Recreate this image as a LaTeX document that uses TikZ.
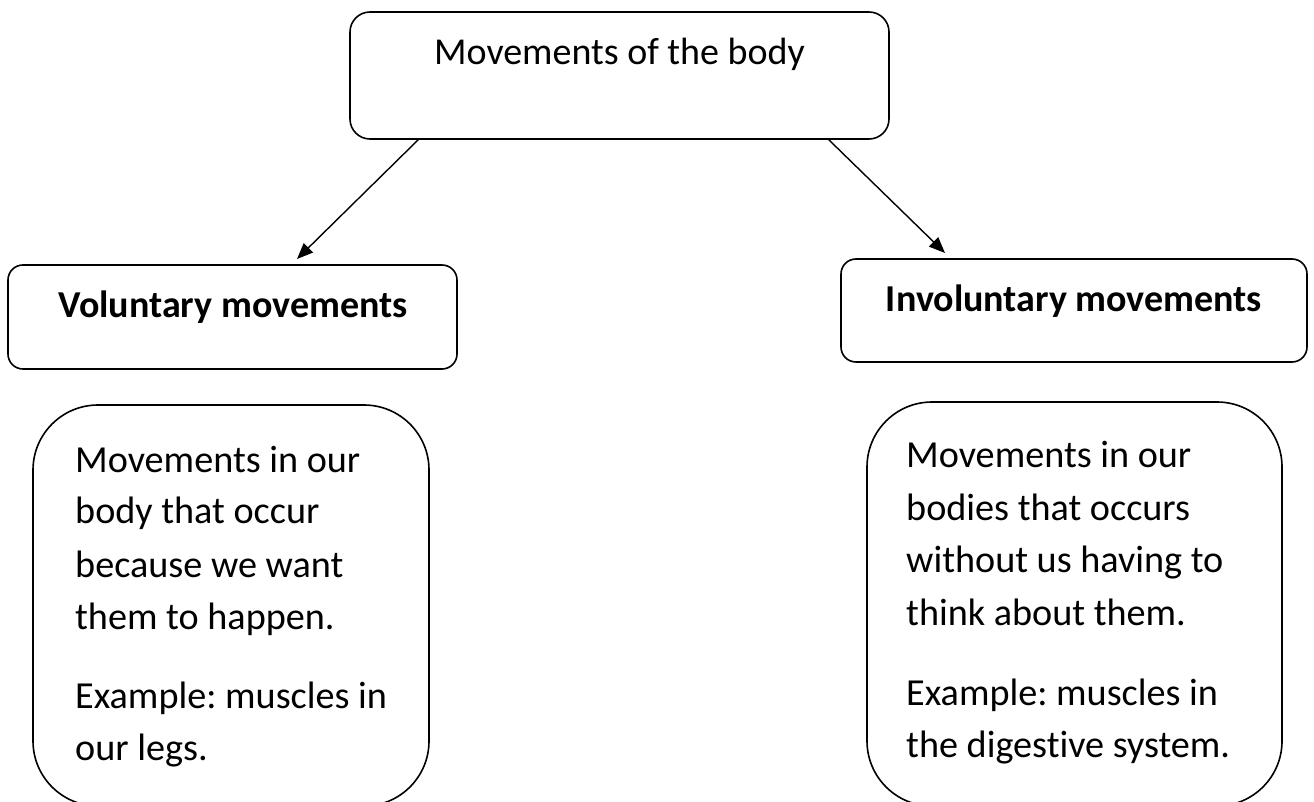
\documentclass[tikz,border=0pt]{standalone}
\usepackage{fontspec}
\setmainfont{Carlito}[Ligatures=NoCommon]
\usetikzlibrary{arrows.meta,calc}
\frenchspacing
\begin{document}
\begin{tikzpicture}[x=1pt,y=-1pt,
  box/.style={draw, line width=1.6pt, rectangle, inner sep=0pt, outer sep=0pt, anchor=north west},
  lbl/.style={inner sep=0pt, anchor=base, font=\fontsize{38}{45}\selectfont},
  hdr/.style={inner sep=0pt, anchor=base, font=\bfseries\fontsize{38}{45}\selectfont},
  bodyline/.style={inner sep=0pt, anchor=base west, font=\fontsize{38.2}{45}\selectfont},
  conn/.style={line width=1.4pt, -{Triangle[length=16pt,width=13pt]}}]
\useasboundingbox (0,0) rectangle (1314,802);
\clip (0,0) rectangle (1314,802);
% boxes
\node[box, rounded corners=20pt, minimum width=539pt, minimum height=127pt] (top) at (350,12) {};
\node[box, rounded corners=15pt, minimum width=449pt, minimum height=104pt] (vol) at (8,265) {};
\node[box, rounded corners=15pt, minimum width=466pt, minimum height=103pt] (inv) at (841,259) {};
\node[box, rounded corners=65pt, minimum width=396pt, minimum height=401pt] (voldesc) at (33,405) {};
\node[box, rounded corners=65pt, minimum width=415pt, minimum height=404pt] (invdesc) at (867,402) {};
% titles
\node[lbl] (toptext) at (619.5,65) {Movements of the body};
\node[hdr] (voltext) at (233,317) {Voluntary movements};
\node[hdr] (invtext) at (1074,312) {Involuntary movements};
% left description
\node[bodyline] (l1) at (75,472) {Movements in our};
\node[bodyline] (l2) at (75,523) {body that occur};
\node[bodyline] (l3) at (75,577) {because we want};
\node[bodyline] (l4) at (75,629) {them to happen.};
\node[bodyline] (l5) at (75,708) {Example: muscles in};
\node[bodyline] (l6) at (75,760) {our legs.};
% right description
\node[bodyline] (r1) at (906,467) {Movements in our};
\node[bodyline] (r2) at (906,520) {bodies that occurs};
\node[bodyline] (r3) at (906,572) {without us having to};
\node[bodyline] (r4) at (906,625) {think about them.};
\node[bodyline] (r5) at (906,705) {Example: muscles in};
\node[bodyline] (r6) at (906,757) {the digestive system.};
% connectors
\coordinate (lstart) at ($(top.south west)+(69,0)$);
\coordinate (rstart) at ($(top.south east)+(-61,0)$);
\coordinate (lend) at (297,259);
\coordinate (rend) at (945,253);
\draw[conn] (lstart) -- (lend);
\draw[conn] (rstart) -- (rend);
\end{tikzpicture}
\end{document}
